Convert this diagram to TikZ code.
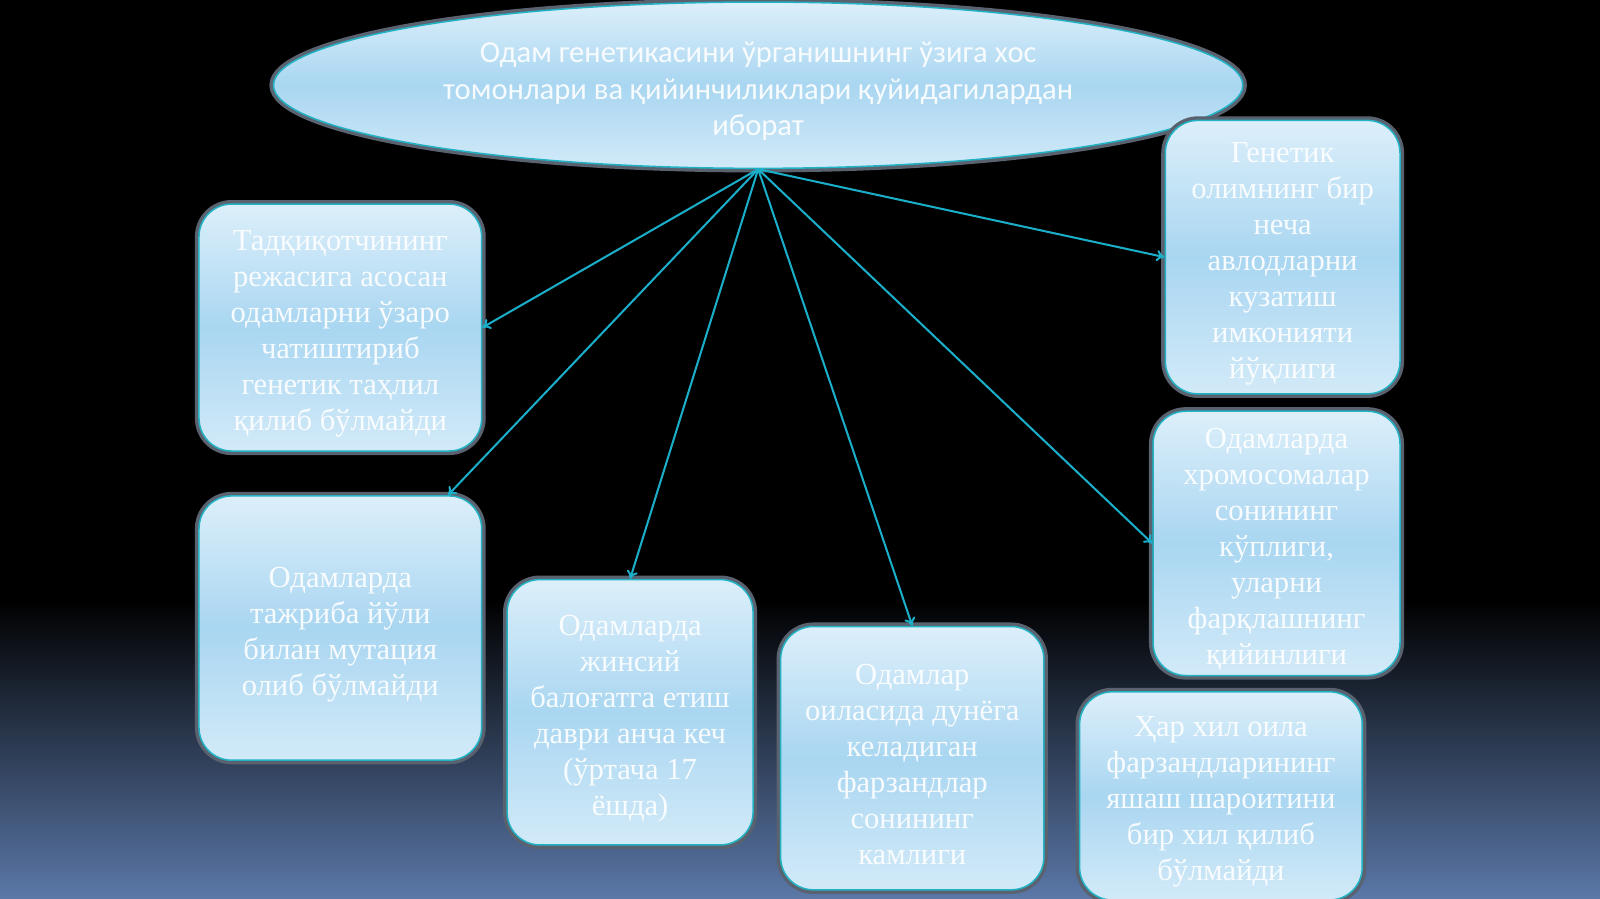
\documentclass[tikz,border=0pt]{standalone}
\usepackage{fontspec}
\setmainfont{Liberation Serif}
\newfontfamily\headfont{Carlito}
\usetikzlibrary{shapes.geometric,arrows.meta}
\definecolor{halo}{HTML}{5A6270}
\definecolor{rim}{HTML}{22B2C4}
\definecolor{arrowc}{HTML}{1AAEC8}
\definecolor{gtop}{HTML}{DCEFFA}
\definecolor{gmid}{HTML}{A9D6F1}
\definecolor{gbot}{HTML}{D2EAF8}
\definecolor{bgbot}{HTML}{5B78A8}
\newcommand\mytopstrut{\rule{0pt}{32pt}}
\begin{document}
\begin{tikzpicture}[x=1pt,y=-1pt,
  glass/.style={top color=gtop,bottom color=gbot,middle color=gmid,
    draw=rim,line width=1.5pt,preaction={draw=halo,line width=8pt},
    text=white,text opacity=0.9,align=center,inner sep=0pt},
  box/.style={glass,rectangle,rounded corners=32pt,font=\fontsize{30}{35.3}\selectfont},
  link/.style={draw=arrowc,line width=2pt,-{To[length=8pt,width=11pt]}}]
\useasboundingbox (0,0) rectangle (1568,881);
\fill[black] (0,0) rectangle (1568,881);
\shade[top color=black,bottom color=bgbot] (0,588) rectangle (1568,881);

\node[glass,ellipse,minimum width=950pt,minimum height=163pt,
  font=\headfont\fontsize{30}{35.5}\selectfont] (top) at (743,83.5)
  {\mytopstrut Одам генетикасини ўрганишнинг ўзига хос\\томонлари ва қийинчиликлари қуйидагилардан\\иборат};

\node[box,minimum width=277pt,minimum height=242pt] (l1) at (333.5,321)
  {\mytopstrut Тадқиқотчининг\\режасига асосан\\одамларни ўзаро\\чатиштириб\\генетик таҳлил\\қилиб бўлмайди};
\node[box,minimum width=277pt,minimum height=259pt] (l2) at (333.5,615.5)
  {\mytopstrut Одамларда\\тажриба йўли\\билан мутация\\олиб бўлмайди};
\node[box,minimum width=241pt,minimum height=260pt] (m1) at (617.5,698)
  {\mytopstrut Одамларда\\жинсий\\балоғатга етиш\\даври анча кеч\\(ўртача 17\\ёшда)};
\node[box,minimum width=258pt,minimum height=258pt] (m2) at (894,743)
  {\mytopstrut Одамлар\\оиласида дунёга\\келадиган\\фарзандлар\\сонининг\\камлиги};
\node[box,minimum width=230pt,minimum height=268pt] (r1) at (1257,252)
  {\mytopstrut Генетик\\олимнинг бир\\неча\\авлодларни\\кузатиш\\имконияти\\йўқлиги};
\node[box,minimum width=242pt,minimum height=259pt] (r2) at (1251,532.5)
  {\mytopstrut Одамларда\\хромосомалар\\сонининг\\кўплиги,\\уларни\\фарқлашнинг\\қийинлиги};
\node[box,minimum width=277pt,minimum height=204pt] (r3) at (1196.5,780)
  {\mytopstrut Ҳар хил оила\\фарзандларининг\\яшаш шароитини\\бир хил қилиб\\бўлмайди};

\draw[link] (top.south) -- (l1.east);
\draw[link] (top.south) -- (l2.51);
\draw[link] (top.south) -- (m1.north);
\draw[link] (top.south) -- (m2.north);
\draw[link] (top.south) -- (r1.west);
\draw[link] (top.south) -- (r2.west);
\end{tikzpicture}
\end{document}
